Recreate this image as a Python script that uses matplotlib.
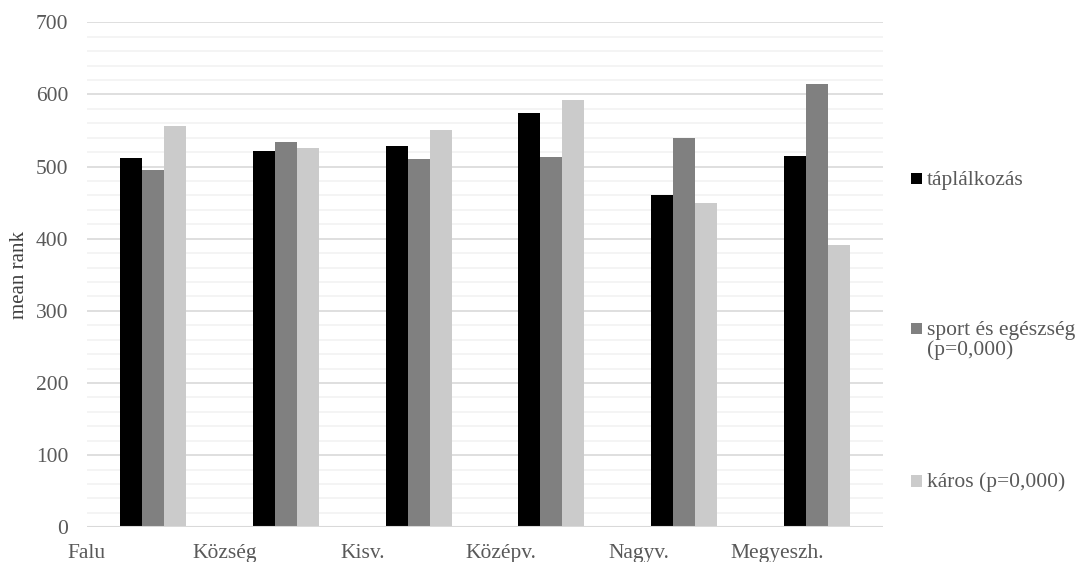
import numpy as np
import matplotlib
matplotlib.use("Agg")
import matplotlib.pyplot as plt
from matplotlib.patches import Rectangle

plt.rcParams['font.family'] = ['Liberation Serif', 'DejaVu Serif']

categories = ["Falu", "Község", "Kisv.", "Középv.", "Nagyv.", "Megyeszh."]
series_names = ["táplálkozás", "sport és egészség\n(p=0,000)", "káros (p=0,000)"]
taplalkozas = [512, 521, 528, 574, 461, 514]
sport = [495, 534, 510, 513, 540, 614]
karos = [556, 526, 551, 592, 450, 391]
series_colors = ["#000000", "#808080", "#cbcbcb"]

text_color = "#595959"
fs = 15.5

fig = plt.figure(figsize=(10.77, 5.62), dpi=100)
ax = fig.add_axes([87 / 1077, 1 - 527.3 / 562, (883 - 87) / 1077, (527.3 - 22.3) / 562])

x = np.arange(len(categories))
width = 1 / 6
for k, (vals, col) in enumerate(zip([taplalkozas, sport, karos], series_colors)):
    ax.bar(x + (k - 1) * width, vals, width=width, color=col, edgecolor="none", zorder=3)

# major and minor horizontal gridlines
ax.set_yticks(np.arange(0, 701, 100))
ax.set_yticks(np.arange(0, 701, 20), minor=True)
ax.yaxis.grid(True, which="major", color="#d9d9d9", linewidth=1.2, zorder=0)
ax.yaxis.grid(True, which="minor", color="#f2f2f2", linewidth=1.2, zorder=0)
ax.tick_params(axis="y", which="both", length=0, pad=13.5, labelsize=fs, labelcolor=text_color)

# category labels run along the axis, starting at the left edge of the plot
ax.set_xticks(-0.5 + 1.04 * x)
ax.set_xticklabels(categories)
ax.tick_params(axis="x", length=0, pad=12, labelsize=fs, labelcolor=text_color)

ax.set_xlim(-0.5, len(categories) - 0.5)
ax.set_ylim(0, 700)

for s in ax.spines.values():
    s.set_visible(False)
ax.axhline(0, color="#d9d9d9", linewidth=1.5, zorder=4)

ax.set_ylabel("mean rank", fontsize=15, color="#404040", labelpad=5)

# legend entries stacked down the right side; each line placed on its own baseline
legend_y = [178.5, 328.5, 481]
line_gap = 20.5
for name, col, yp in zip(series_names, series_colors, legend_y):
    fig.add_artist(Rectangle((910.5 / 1077, 1 - (yp + 5.75) / 562), 11.5 / 1077, 11.5 / 562,
                             transform=fig.transFigure, facecolor=col, edgecolor="none"))
    for i, line in enumerate(name.split("\n")):
        fig.text(927 / 1077, 1 - (yp + 6.5 + i * line_gap) / 562, line, fontsize=fs,
                 color=text_color, va="baseline", ha="left")

fig.savefig("out.png", dpi=100)
